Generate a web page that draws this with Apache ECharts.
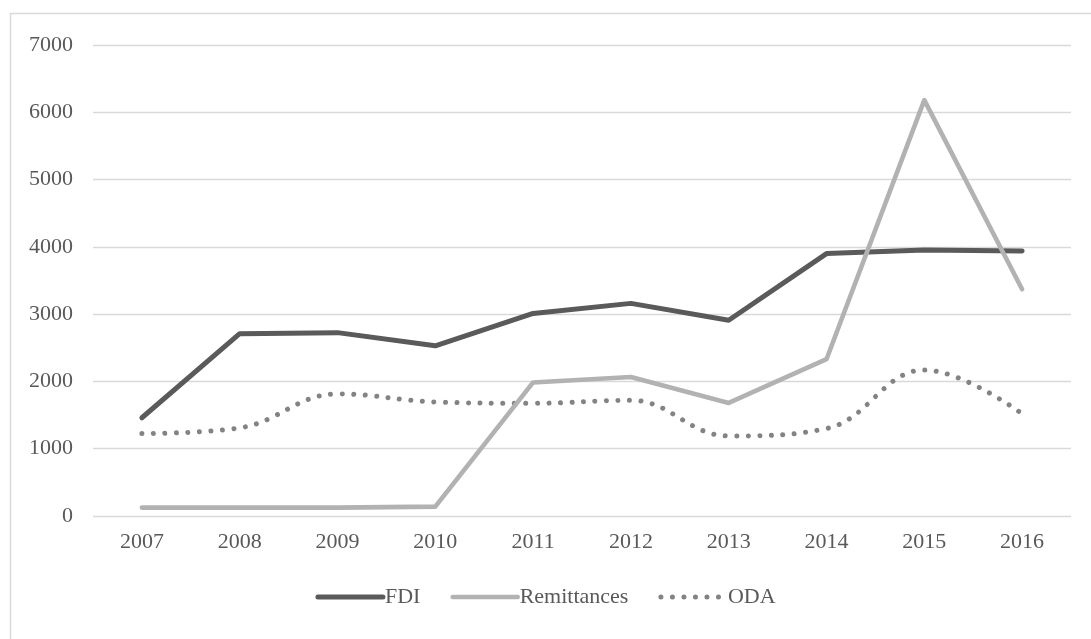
<!DOCTYPE html>
<html>
<head>
<meta charset="utf-8">
<script src="https://cdn.jsdelivr.net/npm/echarts@6/dist/echarts.min.js"></script>
<style>
  html, body { margin: 0; padding: 0; background: #ffffff; }
  #chart { width: 1091px; height: 639px; }
</style>
</head>
<body>
<div id="chart"></div>
<script>
// Years on the category axis
var years = ['2007', '2008', '2009', '2010', '2011', '2012', '2013', '2014', '2015', '2016'];

// Inflows per year
var fdi = [1460, 2710, 2725, 2530, 3010, 3160, 2910, 3900, 3955, 3940];
var remittances = [125, 125, 125, 140, 1985, 2065, 1680, 2330, 6180, 3370];
var oda = [1225, 1310, 1815, 1695, 1675, 1720, 1190, 1300, 2170, 1520];

// Value axis ticks
var yMin = 0;
var yMax = 7000;
var yStep = 1000;

var serif = '"Liberation Serif", "DejaVu Serif", serif';
var textGray = '#595959';

var chart = echarts.init(document.getElementById('chart'), null, { renderer: 'canvas' });

var odaDots = { width: 5, type: [0.01, 11.5], cap: 'round', color: '#838383' };
var noMarker = { opacity: 0, borderWidth: 0 };

chart.setOption({
  animation: false,
  backgroundColor: '#ffffff',
  graphic: [{
    type: 'rect',
    left: 8,
    top: 11,
    shape: { width: 1200, height: 700 },
    style: { fill: 'none', stroke: '#d9d9d9', lineWidth: 1.5 },
    silent: true
  }],
  grid: { left: 93, right: 20, top: 45, bottom: 123, containLabel: false },
  legend: {
    bottom: 26,
    left: 'center',
    itemWidth: 65,
    itemHeight: 12,
    itemGap: 30,
    textStyle: { fontFamily: serif, fontSize: 22, color: textGray, padding: [0, 0, 0, -3] },
    data: [
      { name: 'FDI', itemStyle: noMarker, lineStyle: { width: 5, cap: 'round' } },
      { name: 'Remittances', itemStyle: noMarker, lineStyle: { width: 4.6, cap: 'round' } },
      { name: 'ODA', itemStyle: noMarker, lineStyle: odaDots }
    ]
  },
  xAxis: {
    type: 'category',
    data: years,
    boundaryGap: true,
    axisLine: { show: false },
    axisTick: { show: false },
    axisLabel: { fontFamily: serif, fontSize: 22, color: textGray, margin: 15 }
  },
  yAxis: {
    type: 'value',
    min: yMin,
    max: yMax,
    interval: yStep,
    axisLine: { show: false },
    axisTick: { show: false },
    axisLabel: {
      fontFamily: serif, fontSize: 22, color: textGray, margin: 20,
      formatter: function (v) { return String(v); }
    },
    splitLine: { lineStyle: { color: '#d9d9d9', width: 1.4 } }
  },
  series: [
    {
      name: 'FDI',
      type: 'line',
      data: fdi,
      symbol: 'none',
      lineStyle: { color: '#5a5a5a', width: 5, cap: 'round', join: 'round' },
      itemStyle: { color: '#5a5a5a' },
      z: 3
    },
    {
      name: 'Remittances',
      type: 'line',
      data: remittances,
      symbol: 'none',
      lineStyle: { color: '#b2b2b2', width: 4.6, cap: 'round', join: 'round' },
      itemStyle: { color: '#b2b2b2' },
      z: 4
    },
    {
      name: 'ODA',
      type: 'line',
      data: oda,
      symbol: 'none',
      smooth: 0.4,
      lineStyle: odaDots,
      itemStyle: { color: '#838383' },
      z: 2
    }
  ]
});
</script>
</body>
</html>
